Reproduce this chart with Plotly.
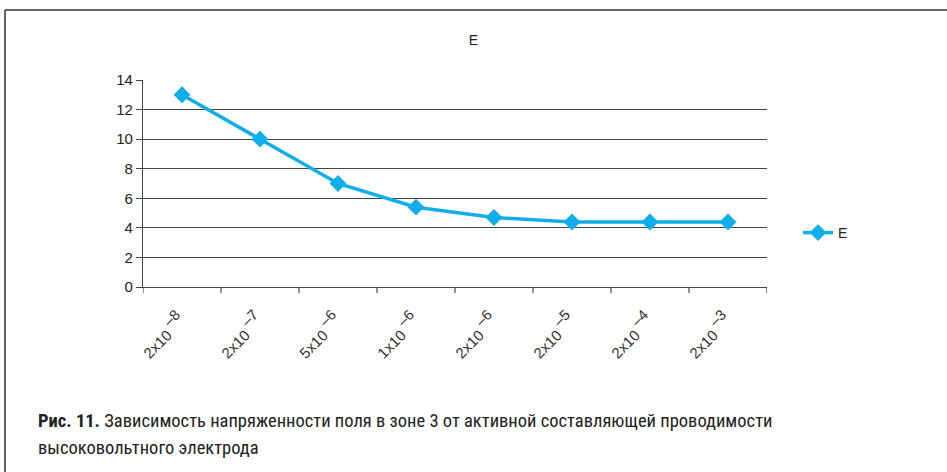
import plotly.graph_objects as go

exps = ["–8", "–7", "–6", "–6", "–6", "–5", "–4", "–3"]
mantissas = ["2x10", "2x10", "5x10", "1x10", "2x10", "2x10", "2x10", "2x10"]
values_E = [13, 10, 7, 5.4, 4.7, 4.4, 4.4, 4.4]
series_name = "E"
chart_title = "E"
caption_line1 = "<b>Рис. 11.</b> Зависимость напряженности поля в зоне 3 от активной составляющей проводимости"
caption_line2 = "высоковольтного электрода"

categories = [f"{m} <span style='font-size:21px'><sup>{e}</sup></span>" for m, e in zip(mantissas, exps)]

W, H = 947, 472
L, R, T, B = 143, 180, 80, 185
pw = W - L - R
ph = H - T - B

def px(x):
    return (x - L) / pw

def py(y):
    return (H - B - y) / ph

fig = go.Figure()
fig.add_trace(go.Scatter(
    x=list(range(len(categories))), y=values_E, mode="lines+markers", name=series_name,
    line=dict(color="#12AEEA", width=3.5),
    marker=dict(symbol="diamond", size=13, color="#12AEEA"),
))

fig.update_layout(
    width=W, height=H,
    margin=dict(l=L, r=R, t=T, b=B),
    paper_bgcolor="white", plot_bgcolor="white",
    font=dict(family="Liberation Sans, Arial, sans-serif", color="#222", size=14),
    title=dict(text=chart_title, x=0.5, xanchor="center", y=1 - 40 / H, yanchor="middle",
               yref="container", font=dict(size=14, color="#222")),
    showlegend=True,
    legend=dict(x=px(798), y=py(233), xanchor="left", yanchor="middle",
                font=dict(size=14, color="#222"), bgcolor="rgba(0,0,0,0)"),
    xaxis=dict(
        tickmode="array", tickvals=list(range(len(categories))), ticktext=categories,
        range=[-0.5, len(categories) - 0.5], tickangle=-45, ticklabelstandoff=18,
        showgrid=False, showline=True, linecolor="#444", linewidth=1.2,
        ticks="", tickfont=dict(size=15, color="#333"), zeroline=False,
    ),
    yaxis=dict(
        range=[0, 14], dtick=2, showgrid=True, gridcolor="#444", gridwidth=1.2,
        showline=True, linecolor="#444", linewidth=1.2,
        ticks="outside", ticklen=6, tickcolor="#444",
        tickfont=dict(size=15, color="#222"), zeroline=False,
    ),
)

# boundary ticks on x axis
for i in range(len(categories) + 1):
    fig.add_shape(type="line", xref="x", yref="paper", x0=i - 0.5, x1=i - 0.5,
                  y0=0, y1=py(H - B + 6), line=dict(color="#444", width=1.2))

# outer frame
fig.add_shape(type="line", xref="paper", yref="paper", x0=px(5), x1=px(W + 5), y0=py(10), y1=py(10),
              line=dict(color="#333", width=1.5))
fig.add_shape(type="line", xref="paper", yref="paper", x0=px(5), x1=px(5), y0=py(10), y1=py(H + 5),
              line=dict(color="#333", width=1.5))

for txt, yy in [(caption_line1, 421), (caption_line2, 448)]:
    fig.add_annotation(text=txt, xref="paper", yref="paper", x=px(36), y=py(yy),
                       xanchor="left", yanchor="middle", showarrow=False,
                       font=dict(family="Roboto Condensed, Liberation Sans Narrow, Roboto, sans-serif",
                                 size=18.5, color="#222"))

fig.write_html("out.html", config={"displayModeBar": False},
               post_script="document.body.style.margin='0';document.body.style.overflow='hidden';")
